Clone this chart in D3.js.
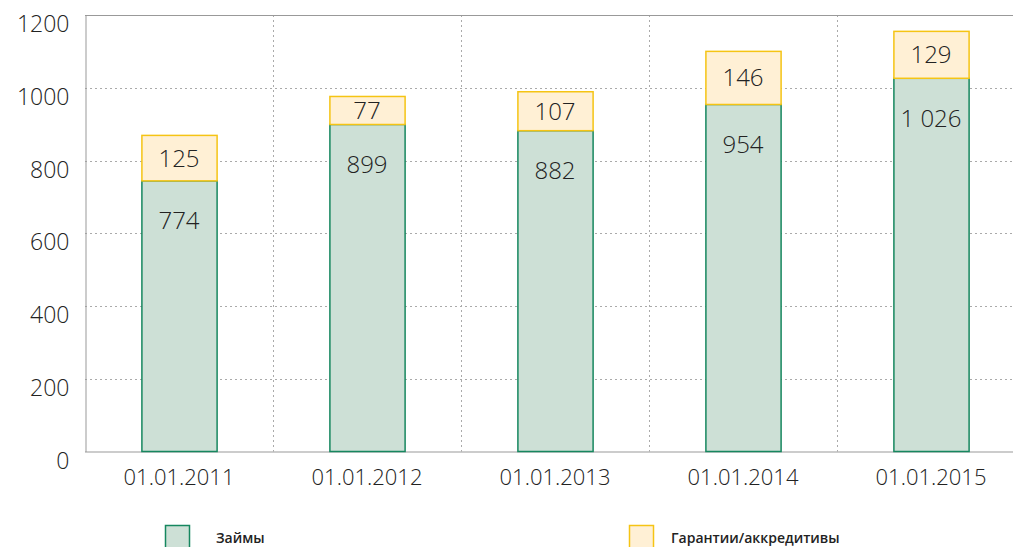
<!DOCTYPE html>
<html>
<head>
<meta charset="utf-8">
<script src="https://cdn.jsdelivr.net/npm/d3@7"></script>
<style>
    body { margin: 0; background: #fff; }
    svg { display: block; font-family: 'Open Sans', sans-serif; }
    .tick text { fill: #222; font-weight: 300; font-family: 'Open Sans', sans-serif; }
    .value-label { fill: #222; font-weight: 300; }
    .legend-label { fill: #222; font-weight: 600; font-size: 14px; }
</style>
</head>
<body>
<svg id="chart" width="1013" height="547"></svg>
<script>
// Chart data
const dates = ['01.01.2011', '01.01.2012', '01.01.2013', '01.01.2014', '01.01.2015'];
// bar heights as drawn in the picture (first bar is drawn lower than its label says)
const loans = [744, 899, 882, 954, 1026];
const loanLabels = ['774', '899', '882', '954', '1 026'];
const guarantees = [125, 77, 107, 146, 129];
const yTicks = [0, 200, 400, 600, 800, 1000, 1200];
const seriesNames = ['Займы', 'Гарантии/аккредитивы'];

const colors = {
    loanFill: '#cde0d6', loanStroke: '#16875f',
    guarFill: '#fff0d5', guarStroke: '#f5c414'
};

const svg = d3.select('#chart');
const margin = {top: 15, left: 85, bottom: 451.5};
const plotRight = 1025;

// Scales
const x = d3.scaleBand()
    .domain(dates)
    .range([margin.left, plotRight])
    .paddingInner(0)
    .paddingOuter(0);

const y = d3.scaleLinear()
    .domain([0, 1200])
    .range([margin.bottom, margin.top]);

const barWidth = x.bandwidth() * 0.4;

// Horizontal gridlines
svg.append('g')
    .selectAll('line')
    .data(yTicks.filter(t => t > 0 && t < 1200))
    .enter()
    .append('line')
    .attr('x1', margin.left)
    .attr('x2', 1013)
    .attr('y1', d => Math.round(y(d)) + 0.5)
    .attr('y2', d => Math.round(y(d)) + 0.5)
    .attr('stroke', '#aaa')
    .attr('stroke-dasharray', '2,3');

// Vertical gridlines between categories
svg.append('g')
    .selectAll('line')
    .data(dates.slice(1))
    .enter()
    .append('line')
    .attr('x1', d => Math.round(x(d)) + 0.5)
    .attr('x2', d => Math.round(x(d)) + 0.5)
    .attr('y1', margin.top)
    .attr('y2', margin.bottom)
    .attr('stroke', '#aaa')
    .attr('stroke-dasharray', '2,3');

// Top frame line
svg.append('line')
    .attr('x1', margin.left).attr('x2', 1013)
    .attr('y1', margin.top + 0.5).attr('y2', margin.top + 0.5)
    .attr('stroke', '#999');

// Axes
const yAxis = svg.append('g')
    .attr('transform', `translate(${margin.left + 0.5},0)`)
    .call(d3.axisLeft(y).tickValues(yTicks).tickFormat(d3.format('d')).tickSize(0).tickPadding(16));
yAxis.select('.domain').attr('stroke', '#999');
yAxis.selectAll('text').style('font-size', '23px').attr('dy', '0.72em');

const xAxis = svg.append('g')
    .attr('transform', `translate(0,${margin.bottom})`)
    .call(d3.axisBottom(x).tickSize(0).tickPadding(14));
xAxis.select('.domain').attr('stroke', '#999').attr('d', `M${margin.left},0.5H1013`);
xAxis.selectAll('text').style('font-size', '22px').attr('dy', '0.9em');

// Bars
const bars = svg.append('g')
    .selectAll('g')
    .data(dates)
    .enter()
    .append('g');

bars.append('rect')
    .attr('x', d => x(d) + (x.bandwidth() - barWidth) / 2 + 0.5)
    .attr('y', (d, i) => y(loans[i]))
    .attr('width', barWidth)
    .attr('height', (d, i) => y(0) - y(loans[i]))
    .attr('fill', colors.loanFill)
    .attr('stroke', colors.loanStroke)
    .attr('stroke-width', 1.5);

bars.append('rect')
    .attr('x', d => x(d) + (x.bandwidth() - barWidth) / 2 + 0.5)
    .attr('y', (d, i) => y(loans[i] + guarantees[i]))
    .attr('width', barWidth)
    .attr('height', (d, i) => y(loans[i]) - y(loans[i] + guarantees[i]))
    .attr('fill', colors.guarFill)
    .attr('stroke', colors.guarStroke)
    .attr('stroke-width', 1.5);

// Value labels
bars.append('text')
    .attr('class', 'value-label')
    .attr('x', d => x(d) + x.bandwidth() / 2)
    .attr('y', (d, i) => y(loans[i]) + 40)
    .attr('text-anchor', 'middle')
    .attr('dy', '0.35em')
    .style('font-size', '24px')
    .text((d, i) => loanLabels[i]);

bars.append('text')
    .attr('class', 'value-label')
    .attr('x', d => x(d) + x.bandwidth() / 2)
    .attr('y', (d, i) => (y(loans[i]) + y(loans[i] + guarantees[i])) / 2)
    .attr('text-anchor', 'middle')
    .attr('dy', '0.35em')
    .style('font-size', '24px')
    .text((d, i) => guarantees[i]);

// Legend
const legendX = [165, 629];
const legend = svg.append('g')
    .selectAll('g')
    .data(seriesNames)
    .enter()
    .append('g')
    .attr('transform', (d, i) => `translate(${legendX[i]},525)`);

legend.append('rect')
    .attr('x', 0.5).attr('y', 0.5)
    .attr('width', 24).attr('height', 26)
    .attr('fill', (d, i) => i === 0 ? colors.loanFill : colors.guarFill)
    .attr('stroke', (d, i) => i === 0 ? colors.loanStroke : colors.guarStroke)
    .attr('stroke-width', 1.5);

legend.append('text')
    .attr('class', 'legend-label')
    .attr('x', (d, i) => i === 0 ? 51 : 42)
    .attr('y', 18)
    .text(d => d);
</script>
</body>
</html>
